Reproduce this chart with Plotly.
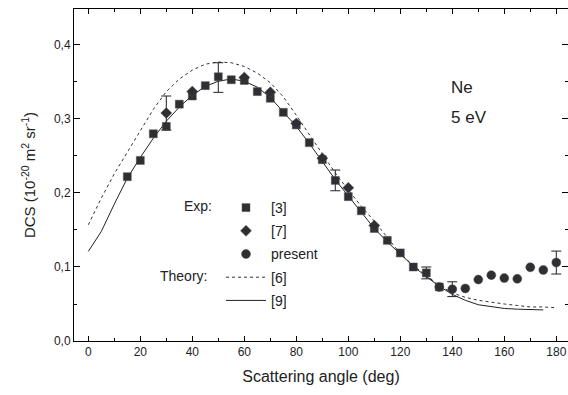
import plotly.graph_objects as go

# ---- data ----
ang3 = [15, 20, 25, 30, 35, 40, 45, 50, 55, 60, 65, 70, 75, 80, 85, 90, 95, 100, 105, 110, 115, 120, 125, 130, 135]
dcs3 = [0.222, 0.244, 0.280, 0.290, 0.320, 0.331, 0.345, 0.357, 0.353, 0.352, 0.337, 0.328, 0.309, 0.292, 0.268,
        0.245, 0.217, 0.195, 0.176, 0.152, 0.136, 0.119, 0.100, 0.092, 0.073]
ang7 = [30, 40, 60, 70, 80, 90, 100, 110]
dcs7 = [0.308, 0.337, 0.356, 0.336, 0.294, 0.247, 0.207, 0.156]
angp = [135, 140, 145, 150, 155, 160, 165, 170, 175, 180]
dcsp = [0.073, 0.070, 0.071, 0.083, 0.089, 0.085, 0.084, 0.0996, 0.096, 0.106]

# error bars (angle, value, +/- error)
err_ang = [30, 50, 95, 130, 140, 180]
err_val = [0.308, 0.356, 0.217, 0.092, 0.070, 0.106]
err_err = [0.023, 0.020, 0.014, 0.008, 0.010, 0.0155]

ang6 = [0, 5, 10, 15, 20, 25, 30, 35, 40, 45, 50, 55, 60, 65, 70, 75, 80, 85, 90, 95, 100, 105, 110,
        115, 120, 125, 130, 135, 140, 145, 150, 155, 160, 165, 170, 175, 180]
dcs6 = [0.157, 0.193, 0.226, 0.255, 0.285, 0.313, 0.337, 0.354, 0.366, 0.374, 0.377, 0.376, 0.371, 0.362,
        0.349, 0.330, 0.305, 0.279, 0.252, 0.227, 0.204, 0.182, 0.162, 0.140, 0.118, 0.102, 0.088, 0.075,
        0.065, 0.059, 0.055, 0.052, 0.050, 0.048, 0.046, 0.046, 0.045]
ang9 = [0, 5, 10, 15, 20, 25, 30, 35, 40, 45, 50, 55, 60, 65, 70, 75, 80, 85, 90, 95, 100, 105, 110,
        115, 120, 125, 130, 135, 140, 145, 150, 155, 160, 165, 170, 175]
dcs9 = [0.121, 0.148, 0.185, 0.220, 0.248, 0.274, 0.297, 0.316, 0.332, 0.344, 0.351, 0.354, 0.351, 0.343,
        0.329, 0.310, 0.290, 0.267, 0.243, 0.218, 0.196, 0.174, 0.152, 0.134, 0.117, 0.101, 0.087, 0.074,
        0.063, 0.055, 0.049, 0.046, 0.044, 0.043, 0.042, 0.042]

mcol = "#2e2e33"
FONT = "Arial, Liberation Sans, sans-serif"

fig = go.Figure()
fig.add_trace(go.Scatter(x=ang6, y=dcs6, mode="lines", name="[6]",
                         line=dict(color="#333333", width=1, dash="dot"), legendgroup="g4", legendrank=4))
fig.add_trace(go.Scatter(x=ang9, y=dcs9, mode="lines", name="[9]",
                         line=dict(color="#222222", width=1), legendgroup="g5", legendrank=5))
fig.add_trace(go.Scatter(x=err_ang, y=err_val, mode="markers", showlegend=False,
                         marker=dict(opacity=0, size=2),
                         error_y=dict(type="data", array=err_err, color="#222222", thickness=1, width=5)))
fig.add_trace(go.Scatter(x=ang3, y=dcs3, mode="markers", name="[3]",
                         marker=dict(symbol="square", size=8, color=mcol, line=dict(color="#555", width=0.5)),
                         legendgroup="g1", legendrank=1))
fig.add_trace(go.Scatter(x=ang7, y=dcs7, mode="markers", name="[7]",
                         marker=dict(symbol="diamond", size=8.5, color=mcol, line=dict(color="#555", width=0.5)),
                         legendgroup="g2", legendrank=2))
fig.add_trace(go.Scatter(x=angp, y=dcsp, mode="markers", name="present",
                         marker=dict(symbol="circle", size=9, color=mcol, line=dict(color="#555", width=0.5)),
                         legendgroup="g3", legendrank=3))

axis_common = dict(showline=True, linecolor="black", linewidth=1, mirror="ticks",
                   ticks="inside", tickcolor="black", tickwidth=1, showgrid=False, zeroline=False,
                   tickfont=dict(family=FONT, size=12, color="#222"))

fig.update_layout(
    width=568, height=395,
    margin=dict(l=74, r=0, t=9, b=54),
    paper_bgcolor="white", plot_bgcolor="white",
    separators=",.",
    font=dict(family=FONT, color="#222"),
    xaxis=dict(range=[-5.5, 184.5], tickvals=[0, 20, 40, 60, 80, 100, 120, 140, 160, 180], ticklen=5,
               minor=dict(dtick=10, tick0=0, ticks="inside", ticklen=3, tickcolor="black"),
               title=dict(text="Scattering angle (deg)", font=dict(family=FONT, size=16, color="#222"), standoff=12),
               **axis_common),
    yaxis=dict(range=[0, 0.4486], tickvals=[0, 0.1, 0.2, 0.3, 0.4], tickformat=".1f", ticklen=6,
               minor=dict(dtick=0.05, tick0=0, ticks="inside", ticklen=3, tickcolor="black"),
               title=dict(text="DCS (10<sup>-20</sup> m<sup>2</sup> sr<sup>-1</sup>)",
                          font=dict(family=FONT, size=15, color="#222"), standoff=14),
               **axis_common),
    legend=dict(x=(221 - 74) / 494, y=(341 - 192) / 332, xanchor="left", yanchor="top",
                bgcolor="rgba(0,0,0,0)", font=dict(family=FONT, size=14, color="#222"),
                traceorder="grouped", tracegroupgap=2, itemwidth=40),
    showlegend=True,
)

fig.add_annotation(text="Exp:", xref="paper", yref="paper", x=(214 - 74) / 494, y=(341 - 206) / 332,
                   xanchor="right", yanchor="middle", showarrow=False, font=dict(family=FONT, size=14, color="#222"))
fig.add_annotation(text="Theory:", xref="paper", yref="paper", x=(209 - 74) / 494, y=(341 - 276) / 332,
                   xanchor="right", yanchor="middle", showarrow=False, font=dict(family=FONT, size=14, color="#222"))
fig.add_annotation(text="Ne", xref="paper", yref="paper", x=(449 - 74) / 494, y=(341 - 87) / 332,
                   xanchor="left", yanchor="middle", showarrow=False, font=dict(family=FONT, size=17, color="#222"))
fig.add_annotation(text="5 eV", xref="paper", yref="paper", x=(449 - 74) / 494, y=(341 - 117) / 332,
                   xanchor="left", yanchor="middle", showarrow=False, font=dict(family=FONT, size=17, color="#222"))

fig.write_html("out.html")
